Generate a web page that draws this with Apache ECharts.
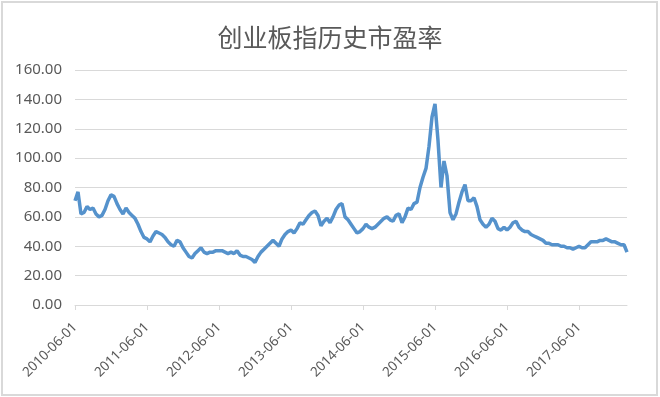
<!DOCTYPE html>
<html>
<head>
<meta charset="utf-8">
<script src="https://cdn.jsdelivr.net/npm/echarts@6/dist/echarts.min.js"></script>
<style>
  html, body { margin: 0; padding: 0; background: #fff; }
  #chart { width: 660px; height: 397px; }
</style>
</head>
<body>
<div id="chart"></div>
<script>
// 创业板指市盈率, 每半月取一个点 (每月 1 日 / 16 日), 从 2010-06-01 开始
const startYear = 2010
const startMonth = 6
const peValues = [
  71, 77, 62, 63, 67, 65, 66, 62, 60, 61, 65, 71, 75, 74, 69, 65, 62, 66, 63, 61,
  59, 55, 50, 46, 45, 43, 47, 50, 49, 48, 46, 43, 41, 40, 44, 43, 39, 36, 33, 32,
  35, 37, 39, 36, 35, 36, 36, 37, 37, 37, 36, 35, 36, 35, 37, 34, 33, 33, 32, 31,
  29, 33, 36, 38, 40, 42, 44, 42, 40, 45, 48, 50, 51, 49, 52, 56, 55, 58, 61, 63,
  64, 61, 54, 57, 59, 56, 60, 65, 68, 69, 60, 58, 55, 52, 49, 50, 52, 55, 53, 52,
  53, 55, 57, 59, 60, 58, 57, 61, 62, 56, 60, 66, 65, 69, 70, 80, 87, 93, 108, 128,
  137, 112, 80, 98, 88, 63, 58, 62, 70, 77, 82, 71, 71, 73, 67, 58, 55, 53, 55, 59,
  57, 52, 51, 53, 51, 53, 56, 57, 53, 51, 50, 50, 48, 47, 46, 45, 44, 42, 42, 41,
  41, 41, 40, 40, 39, 39, 38, 39, 40, 39, 39, 41, 43, 43, 43, 44, 44, 45, 44, 43,
  43, 42, 41, 41, 36
]
const yTicks = [0, 20, 40, 60, 80, 100, 120, 140, 160]

const categories = []
for (let i = 0; i < peValues.length; i++) {
  let m = startMonth - 1 + Math.floor(i / 2)
  let y = startYear + Math.floor(m / 12)
  let mm = String(m % 12 + 1).padStart(2, '0')
  categories.push(y + '-' + mm + '-' + (i % 2 ? '16' : '01'))
}
const isYearTick = (idx, val) => val.endsWith('-06-01')

const chart = echarts.init(document.getElementById('chart'))
chart.setOption({
  animation: false,
  backgroundColor: '#fff',
  title: {
    text: '创业板指历史市盈率',
    left: 'center',
    top: 20,
    textStyle: {
      fontFamily: 'Noto Sans CJK SC',
      fontSize: 25,
      fontWeight: 'normal',
      color: '#595959'
    }
  },
  graphic: [{
    type: 'rect',
    shape: { x: 2, y: 2, width: 655, height: 393 },
    style: { fill: 'none', stroke: '#d9d9d9', lineWidth: 2 },
    silent: true
  }],
  grid: { left: 75, right: 33, top: 70, bottom: 92 },
  xAxis: {
    type: 'category',
    data: categories,
    boundaryGap: false,
    axisLine: { lineStyle: { color: '#d9d9d9', width: 1 } },
    axisTick: { interval: isYearTick, length: 5, lineStyle: { color: '#d9d9d9' } },
    axisLabel: {
      interval: isYearTick,
      rotate: 45,
      margin: 20,
      fontFamily: 'Noto Sans',
      fontSize: 13.5,
      color: '#595959'
    }
  },
  yAxis: {
    type: 'value',
    min: yTicks[0],
    max: yTicks[yTicks.length - 1],
    interval: 20,
    axisLine: { show: false },
    axisTick: { show: false },
    splitLine: { lineStyle: { color: '#d9d9d9', width: 1 } },
    axisLabel: {
      margin: 13,
      fontFamily: 'Noto Sans',
      fontSize: 15,
      color: '#595959',
      formatter: v => v.toFixed(2)
    }
  },
  series: [{
    type: 'line',
    data: peValues,
    showSymbol: false,
    lineStyle: { color: '#5592cc', width: 3.5 },
    itemStyle: { color: '#5592cc' }
  }]
})
</script>
</body>
</html>
